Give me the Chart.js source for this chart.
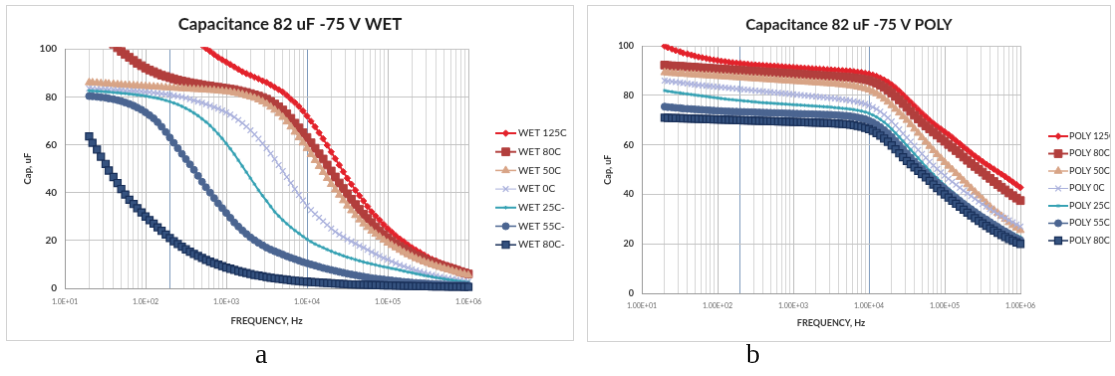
<!DOCTYPE html>
<html>
<head>
<meta charset="utf-8">
<script src="https://cdn.jsdelivr.net/npm/chart.js@4.4.1/dist/chart.umd.min.js"></script>
<style>
  body { margin: 0; background: #fff; width: 1115px; height: 376px; position: relative; overflow: hidden; }
  canvas { position: absolute; border: 1px solid #d2d2d2; background: #fff; }
  .cap { position: absolute; font-family: "Liberation Serif", serif; font-size: 28px; color: #111; }
</style>
</head>
<body>
<canvas id="wetChart" width="568" height="336" style="left:6px; top:5px;"></canvas>
<canvas id="polyChart" width="524" height="337" style="left:587px; top:5px;"></canvas>
<div class="cap" style="left:255px; top:338px;">a</div>
<div class="cap" style="left:746px; top:338px;">b</div>
<script>
'use strict';

// frequency points, Hz (20 per decade)
var freqHz = [20, 22, 25, 28, 32, 35, 40, 45, 50, 56, 63, 71, 79, 89,
  100, 112, 126, 141, 158, 178, 200, 224, 251, 282, 316, 355, 398, 447, 501, 562, 631, 708, 794, 891,
  1000, 1122, 1259, 1413, 1585, 1778, 1995, 2239, 2512, 2818, 3162, 3548, 3981, 4467, 5012, 5623, 6310, 7079, 7943, 8913,
  10000, 11220, 12589, 14125, 15849, 17783, 19953, 22387, 25119, 28184, 31623, 35481, 39811, 44668, 50119, 56234, 63096, 70795, 79433, 89125,
  100000, 112202, 125893, 141254, 158489, 177828, 199526, 223872, 251189, 281838, 316228, 354813, 398107, 446684, 501187, 562341, 630957, 707946, 794328, 891251,
  1000000];

var decadeValues = [10, 100, 1000, 10000, 100000, 1000000];
var wetTickLabels = ['1.0E+01', '1.0E+02', '1.0E+03', '1.0E+04', '1.0E+05', '1.0E+06'];
var polyTickLabels = ['1.00E+01', '1.00E+02', '1.00E+03', '1.00E+04', '1.00E+05', '1.00E+06'];

var wetLabels = ['WET 125C', 'WET 80C', 'WET 50C', 'WET 0C', 'WET 25C-', 'WET 55C-', 'WET 80C-'];
var polyLabels = ['POLY 125C', 'POLY 80C', 'POLY 50C', 'POLY 0C', 'POLY 25C-', 'POLY 55C-', 'POLY 80C-'];

// capacitance, uF
var wet125 = [135, 133.5, 132, 130.5, 129, 127.5, 126, 124.5, 123, 122, 121, 120, 119, 118,
  117, 116, 115, 114, 113, 112, 111, 110, 109, 108, 107, 105.5, 104, 102.7, 101.5, 100.2, 99, 97.7, 96.5, 95.5,
  94.5, 93.5, 92.5, 91.5, 90.5, 89.7, 89, 88.2, 87.5, 86.7, 86, 85, 84, 83, 82, 80.6, 79, 77.6, 76, 74.1,
  72, 69.8, 67.5, 65, 62.5, 59.8, 57, 54.2, 51.5, 48.7, 46, 43.5, 41, 38.7, 36.5, 34.2, 32, 30.2, 28.5, 26.7,
  25, 23.5, 22, 20.7, 19.5, 18.2, 17, 16, 15, 14, 13, 12.2, 11.5, 10.7, 10, 9.5, 9, 8.4, 7.8, 7.2,
  6.7];
var wet80 = [112, 110, 108, 106.5, 105, 103.5, 102, 100.5, 99, 97.7, 96.5, 95.2, 94, 93,
  92, 91.2, 90.5, 89.7, 89, 88.5, 88, 87.5, 87, 86.6, 86.3, 85.9, 85.6, 85.3, 85, 84.7, 84.5, 84.2, 84, 83.7,
  83.5, 83.2, 83, 82.6, 82.2, 81.8, 81.3, 80.8, 80.3, 79.7, 79, 78.1, 77, 75.8, 74.5, 72.9, 71, 69, 67, 65,
  63, 60.8, 58.5, 56.2, 54, 51.5, 49, 46.5, 44, 41.7, 39.5, 37.2, 35, 33, 31, 29.2, 27.5, 25.7, 24, 22.5,
  21, 19.7, 18.5, 17.5, 16.5, 15.5, 14.5, 13.7, 13, 12.2, 11.5, 10.9, 10.3, 9.7, 9.2, 8.7, 8.2, 7.6, 7, 6.5,
  6];
var wet50 = [86, 85.9, 85.8, 85.6, 85.5, 85.4, 85.3, 85.1, 85, 84.9, 84.8, 84.7, 84.6, 84.5,
  84.4, 84.3, 84.2, 84.1, 84, 83.9, 83.8, 83.7, 83.6, 83.5, 83.4, 83.3, 83.2, 83.1, 83, 82.9, 82.8, 82.7, 82.5, 82.4,
  82.2, 82, 81.7, 81.4, 81, 80.5, 80, 79.5, 78.8, 78, 77, 75.8, 74.5, 73.1, 71.5, 69.6, 67.5, 65.3, 63, 60.8,
  58.5, 56, 53.5, 51, 48.5, 46, 43.5, 41.2, 39, 36.7, 34.5, 32.5, 30.5, 28.7, 27, 25.5, 24, 22.7, 21.5, 20.2,
  19, 18, 17, 16, 15, 14.1, 13.3, 12.5, 11.8, 11.1, 10.5, 9.9, 9.3, 8.8, 8.3, 7.8, 7.3, 6.8, 6.3, 5.9,
  5.5];
var wet0 = [83.5, 83.4, 83.3, 83.2, 83.1, 83, 82.9, 82.8, 82.7, 82.6, 82.5, 82.4, 82.3, 82.2,
  82, 81.9, 81.7, 81.5, 81.3, 81.1, 80.8, 80.5, 80.2, 79.9, 79.5, 79, 78.5, 78, 77.5, 76.9, 76.3, 75.7, 75, 74.3,
  73.5, 72.6, 71.5, 70.3, 69, 67.6, 66, 64.3, 62.5, 60.5, 58.5, 56.3, 54, 51.5, 49, 46.5, 44, 41.5, 39, 36.7,
  34.5, 32.7, 31, 29.5, 28, 26.5, 25, 23.7, 22.5, 21.5, 20.5, 19.6, 18.7, 17.8, 17, 16.1, 15.2, 14.3, 13.5, 12.7,
  12, 11.2, 10.5, 9.8, 9.2, 8.6, 8, 7.5, 7, 6.5, 6, 5.6, 5.2, 4.8, 4.5, 4.2, 3.9, 3.6, 3.3, 3,
  2.8];
var wet25 = [82.5, 82.4, 82.3, 82.2, 82.1, 82, 81.8, 81.7, 81.5, 81.4, 81.2, 81, 80.8, 80.6,
  80.3, 80, 79.7, 79.4, 79, 78.5, 78, 77.4, 76.8, 76, 75.2, 74.3, 73.2, 72.1, 70.8, 69.5, 68, 66.3, 64.5, 62.6,
  60.5, 58.3, 56, 53.5, 51, 48.5, 46, 43.5, 41, 38.7, 36.5, 34.2, 32, 30.2, 28.5, 27, 25.5, 24.2, 23, 21.7,
  20.5, 19.5, 18.5, 17.7, 17, 16.2, 15.5, 14.8, 14.2, 13.6, 13, 12.5, 12, 11.5, 11, 10.6, 10.2, 9.8, 9.4, 9,
  8.7, 8.3, 8, 7.6, 7.2, 6.8, 6.5, 6.1, 5.8, 5.4, 5.1, 4.8, 4.5, 4.2, 3.9, 3.6, 3.4, 3.1, 2.9, 2.7,
  2.5];
var wet55 = [80.3, 80.2, 80, 79.8, 79.6, 79.3, 79, 78.6, 78.2, 77.6, 77, 76.3, 75.5, 74.6,
  73.5, 72.3, 71, 69.4, 67.5, 65.3, 63, 60.8, 58.5, 56.2, 54, 51.8, 49.5, 47, 44.5, 42.2, 40, 37.7, 35.5, 33.5,
  31.5, 29.5, 27.5, 25.8, 24.2, 22.7, 21.3, 20.1, 19, 18, 17, 16.2, 15.5, 14.8, 14.1, 13.4, 12.8, 12.2, 11.6, 11,
  10.5, 10, 9.5, 9, 8.5, 8.1, 7.7, 7.3, 6.9, 6.5, 6.1, 5.8, 5.5, 5.2, 4.9, 4.6, 4.3, 4.1, 3.9, 3.7,
  3.5, 3.3, 3.1, 2.9, 2.7, 2.6, 2.4, 2.3, 2.2, 2.1, 2, 1.9, 1.8, 1.7, 1.6, 1.5, 1.4, 1.4, 1.3, 1.3,
  1.2];
var wet80m = [63.5, 60.8, 58, 55, 52, 49.2, 46.5, 44, 41.5, 39.2, 37, 35.2, 33.5, 31.7,
  30, 28.5, 27, 25.5, 24, 22.5, 21, 19.7, 18.5, 17.4, 16.3, 15.3, 14.4, 13.5, 12.7, 11.9, 11.2, 10.5, 9.9, 9.3,
  8.7, 8.2, 7.7, 7.2, 6.8, 6.4, 6, 5.6, 5.3, 5, 4.7, 4.4, 4.2, 4, 3.8, 3.6, 3.4, 3.2, 3.1, 2.9,
  2.8, 2.6, 2.5, 2.4, 2.3, 2.2, 2.1, 2, 1.9, 1.8, 1.7, 1.65, 1.6, 1.55, 1.5, 1.45, 1.4, 1.35, 1.3, 1.25,
  1.2, 1.15, 1.1, 1.05, 1, 0.97, 0.95, 0.92, 0.9, 0.87, 0.85, 0.82, 0.8, 0.77, 0.75, 0.72, 0.7, 0.67, 0.65, 0.62,
  0.6];

var poly125 = [100, 99.4, 98.8, 98.2, 97.7, 97.2, 96.8, 96.4, 96, 95.6, 95.3, 95, 94.7, 94.4,
  94.2, 93.9, 93.7, 93.5, 93.3, 93.1, 93, 92.8, 92.7, 92.5, 92.4, 92.3, 92.2, 92.1, 92, 91.9, 91.8, 91.7, 91.6, 91.5,
  91.4, 91.3, 91.2, 91.1, 91, 90.9, 90.8, 90.7, 90.6, 90.5, 90.4, 90.3, 90.2, 90.1, 90, 89.9, 89.7, 89.5, 89.3, 89,
  88.7, 88.3, 87.8, 87.1, 86.3, 85.4, 84.3, 83.1, 81.8, 80.3, 78.8, 77.3, 75.8, 74.3, 72.8, 71.4, 70, 68.7, 67.5, 66.4,
  65.3, 64.2, 63, 61.7, 60.5, 59.2, 58, 56.7, 55.5, 54.4, 53.3, 52.2, 51.2, 50.2, 49.2, 48.2, 47.2, 46.1, 45, 43.9,
  42.8];
var poly80 = [92.3, 92.1, 92, 91.9, 91.8, 91.7, 91.6, 91.5, 91.4, 91.3, 91.2, 91.1, 91, 90.9,
  90.8, 90.7, 90.6, 90.5, 90.4, 90.3, 90.2, 90.1, 90, 89.9, 89.8, 89.7, 89.6, 89.5, 89.4, 89.3, 89.2, 89.1, 89, 88.9,
  88.8, 88.7, 88.6, 88.5, 88.4, 88.3, 88.2, 88.1, 88, 87.9, 87.8, 87.7, 87.6, 87.5, 87.4, 87.3, 87.1, 86.9, 86.7, 86.4,
  86.1, 85.6, 85, 84.2, 83.3, 82.2, 81, 79.6, 78.2, 76.7, 75.2, 73.6, 72, 70.5, 69, 67.7, 66.5, 65.2, 64, 62.7,
  61.5, 60.2, 59, 57.7, 56.5, 55.1, 53.8, 52.5, 51.3, 50.1, 49, 47.7, 46.5, 45.2, 44, 42.9, 41.8, 40.6, 39.5, 38.5,
  37.5];
var poly50 = [89.3, 89.1, 89, 88.9, 88.8, 88.7, 88.6, 88.5, 88.4, 88.3, 88.2, 88.1, 88, 87.9,
  87.8, 87.7, 87.6, 87.5, 87.4, 87.3, 87.2, 87.1, 87, 86.9, 86.8, 86.7, 86.6, 86.5, 86.4, 86.3, 86.2, 86.1, 86, 85.9,
  85.8, 85.7, 85.6, 85.5, 85.4, 85.3, 85.2, 85.1, 85, 84.9, 84.8, 84.7, 84.5, 84.4, 84.2, 84, 83.8, 83.5, 83.2, 82.8,
  82.3, 81.6, 80.8, 79.8, 78.6, 77.4, 76, 74.5, 73, 71.5, 70, 68.3, 66.5, 64.8, 63, 61.2, 59.5, 57.8, 56.2, 54.6,
  53, 51.5, 50, 48.5, 47, 45.5, 44, 42.5, 41, 39.5, 38, 36.5, 35, 33.7, 32.5, 31.2, 30, 28.7, 27.5, 26.5,
  25.5];
var poly0 = [86, 85.8, 85.6, 85.4, 85.2, 85, 84.8, 84.6, 84.4, 84.2, 84.1, 83.9, 83.8, 83.6,
  83.5, 83.3, 83.2, 83, 82.9, 82.7, 82.6, 82.4, 82.3, 82.1, 82, 81.8, 81.7, 81.5, 81.4, 81.2, 81.1, 80.9, 80.8, 80.6,
  80.5, 80.3, 80.2, 80, 79.9, 79.7, 79.6, 79.4, 79.3, 79.1, 79, 78.8, 78.6, 78.4, 78.2, 78, 77.7, 77.4, 77, 76.6,
  76, 75.3, 74.5, 73.5, 72.3, 71, 69.5, 67.9, 66.3, 64.6, 63, 61.3, 59.7, 58, 56.4, 54.8, 53.2, 51.7, 50.3, 48.9,
  47.6, 46.3, 45.1, 43.9, 42.7, 41.5, 40.4, 39.3, 38.2, 37.1, 36.1, 35.1, 34.1, 33.1, 32.2, 31.3, 30.4, 29.5, 28.7, 27.8,
  27];
var poly25 = [82, 81.7, 81.5, 81.2, 81, 80.8, 80.6, 80.4, 80.2, 80, 79.8, 79.6, 79.4, 79.2,
  79, 78.8, 78.6, 78.4, 78.3, 78.1, 78, 77.8, 77.7, 77.5, 77.4, 77.2, 77.1, 77, 76.9, 76.8, 76.7, 76.6, 76.5, 76.4,
  76.3, 76.2, 76.1, 76, 75.9, 75.8, 75.7, 75.6, 75.5, 75.4, 75.3, 75.1, 75, 74.8, 74.7, 74.5, 74.3, 74, 73.7, 73.3,
  72.8, 72.1, 71.3, 70.3, 69.2, 67.9, 66.4, 64.8, 63.2, 61.5, 59.8, 58.1, 56.4, 54.7, 53, 51.3, 49.7, 48.1, 46.6, 45.1,
  43.7, 42.3, 41, 39.7, 38.4, 37.2, 36, 34.8, 33.7, 32.6, 31.5, 30.5, 29.5, 28.5, 27.6, 26.7, 25.8, 25, 24.2, 23.5,
  22.8];
var poly55 = [75.5, 75.3, 75.2, 75, 74.9, 74.7, 74.6, 74.5, 74.4, 74.3, 74.2, 74.1, 74, 73.9,
  73.8, 73.7, 73.6, 73.55, 73.5, 73.45, 73.4, 73.35, 73.3, 73.25, 73.2, 73.15, 73.1, 73.05, 73, 72.95, 72.9, 72.85, 72.8, 72.75,
  72.7, 72.65, 72.6, 72.55, 72.5, 72.45, 72.4, 72.35, 72.3, 72.25, 72.2, 72.1, 72, 71.9, 71.8, 71.6, 71.4, 71.1, 70.8, 70.4,
  69.8, 69.1, 68.2, 67.2, 66, 64.7, 63.2, 61.6, 60, 58.3, 56.6, 54.9, 53.3, 51.8, 50.3, 48.9, 47.5, 46.1, 44.8, 43.5,
  42.3, 41, 39.8, 38.6, 37.4, 36.2, 35.1, 34, 32.9, 31.8, 30.8, 29.8, 28.8, 27.8, 26.9, 25.9, 25, 24.1, 23.2, 22.3,
  21.5];
var poly80m = [71, 70.95, 70.9, 70.85, 70.8, 70.75, 70.7, 70.65, 70.6, 70.55, 70.5, 70.45, 70.4, 70.35,
  70.3, 70.25, 70.2, 70.15, 70.1, 70.05, 70, 69.95, 69.9, 69.85, 69.8, 69.75, 69.7, 69.65, 69.6, 69.55, 69.5, 69.45, 69.4, 69.35,
  69.3, 69.25, 69.2, 69.15, 69.1, 69.05, 69, 68.95, 68.9, 68.85, 68.8, 68.7, 68.6, 68.5, 68.4, 68.2, 68, 67.7, 67.4, 66.9,
  66.4, 65.7, 64.8, 63.8, 62.6, 61.3, 59.8, 58.2, 56.6, 55, 53.5, 52.2, 50.9, 49.5, 48.2, 46.9, 45.5, 44, 42.6, 41.3,
  40, 38.7, 37.4, 36.2, 35, 33.8, 32.6, 31.5, 30.4, 29.3, 28.3, 27.3, 26.3, 25.4, 24.5, 23.6, 22.8, 22, 21.3, 20.6,
  20];

var seriesStyles = [
  { color: '#e3222b', shape: 'rectRot', r: 3.2, lw: 2, order: 7 },
  { color: '#b23f3d', shape: 'rect', r: 5.5, lw: 2, order: 6 },
  { color: '#d8a486', shape: 'triangle', r: 4.5, lw: 1.5, order: 5 },
  { color: '#a9b0dc', shape: 'crossRot', r: 4, lw: 1, pbw: 1.2, order: 4 },
  { color: '#35a1b3', shape: 'star', r: 1.8, lw: 2, order: 3 },
  { color: '#4b6591', shape: 'circle', r: 3.5, lw: 1.5, order: 2 },
  { color: '#182f58', fill: '#35527f', shape: 'rect', r: 5, lw: 1.5, pbw: 1.2, order: 1 }
];

function makeSeries(labels, valueLists) {
  return valueLists.map(function(values, n) {
    var st = seriesStyles[n];
    return {
      label: labels[n],
      data: freqHz.map(function(f, i) { return { x: f, y: values[i] }; }),
      yAxisID: 'y',
      borderColor: st.color,
      backgroundColor: st.fill || st.color,
      borderWidth: st.lw,
      pointStyle: st.shape,
      pointRadius: st.r,
      pointBackgroundColor: st.fill || st.color,
      pointBorderColor: st.color,
      pointBorderWidth: st.pbw || 1,
      tension: 0,
      clip: { left: 8, right: 8, top: 2, bottom: 8 },
      order: st.order
    };
  });
}

// legend drawn beside the plot: line with marker, then the name
var sideLegend = {
  id: 'sideLegend',
  afterDraw: function(chart, args, o) {
    var ctx = chart.ctx;
    ctx.save();
    chart.data.datasets.forEach(function(ds, i) {
      var y = o.top + i * o.step;
      ctx.strokeStyle = ds.borderColor;
      ctx.lineWidth = ds.borderWidth;
      ctx.beginPath();
      ctx.moveTo(o.x, y);
      ctx.lineTo(o.x + o.len, y);
      ctx.stroke();
      ctx.fillStyle = ds.pointBackgroundColor;
      ctx.strokeStyle = ds.pointBorderColor;
      ctx.lineWidth = ds.pointBorderWidth;
      Chart.helpers.drawPoint(ctx, {
        pointStyle: ds.pointStyle, radius: ds.pointRadius,
        borderWidth: ds.pointBorderWidth, rotation: 0
      }, o.x + o.len / 2, y);
      ctx.fillStyle = '#222';
      ctx.font = o.fontSize + 'px Lato';
      ctx.textAlign = 'left';
      ctx.textBaseline = 'middle';
      ctx.fillText(ds.label, o.textX, y);
    });
    ctx.restore();
  }
};

function gridColor(c) {
  var v = c.tick ? c.tick.value : 0;
  if (v === 200 || v === 10000) return '#7f9bbd';
  if (decadeValues.indexOf(v) >= 0) return '#bcbcbc';
  return '#d6d6d6';
}

function buildChart(id, g) {
  var ctx = document.getElementById(id).getContext('2d');
  return new Chart(ctx, {
    type: 'line',
    data: { datasets: makeSeries(g.labels, g.values) },
    plugins: [sideLegend],
    options: {
      responsive: false,
      animation: false,
      devicePixelRatio: 1,
      layout: { padding: 0 },
      plugins: {
        legend: { display: false },
        tooltip: { enabled: false },
        title: {
          display: true, text: g.title, color: '#1a1a1a',
          font: { family: 'Lato', size: g.titleSize, weight: 'bold' },
          padding: { top: g.titleTop, bottom: g.titleBottom }
        },
        sideLegend: g.legend
      },
      scales: {
        x: {
          type: 'logarithmic', min: 10, max: 1000000,
          afterBuildTicks: function(scale) {
            var t = [];
            decadeValues.forEach(function(d, i) {
              if (i === decadeValues.length - 1) { t.push({ value: d }); return; }
              for (var k = 1; k <= 9; k++) t.push({ value: d * k });
            });
            scale.ticks = t;
          },
          afterFit: function(scale) { scale.height = g.xHeight; },
          grid: { color: gridColor, lineWidth: 1, drawTicks: false },
          border: { color: '#9a9a9a' },
          ticks: {
            autoSkip: false, maxRotation: 0, minRotation: 0, padding: g.xTickPad,
            color: '#666', font: { family: 'Lato', size: 7 },
            callback: function(v) {
              var i = decadeValues.indexOf(v);
              return i >= 0 ? g.tickLabels[i] : '';
            }
          },
          title: {
            display: true, text: 'FREQUENCY, Hz', color: '#333',
            font: { family: 'Lato', size: g.axisSize, weight: 'bold' },
            padding: { top: 0, bottom: g.xTitlePad }
          }
        },
        y: {
          min: 0, max: 100,
          afterFit: function(scale) { scale.width = g.yWidth; },
          grid: { color: '#c4c4c4', drawTicks: false },
          border: { color: '#9a9a9a' },
          ticks: {
            stepSize: 20, padding: 8, color: '#333',
            font: { family: 'Lato', size: g.yTickSize, weight: 'bold' }
          },
          title: {
            display: true, text: 'Cap, uF', color: '#333',
            font: { family: 'Lato', size: g.axisSize, weight: 'bold' },
            padding: { top: g.yTitlePad, bottom: 0 }
          }
        },
        // empty box on the right keeps room for the legend
        yR: {
          position: 'right', min: 0, max: 1,
          afterFit: function(scale) { scale.width = g.rightWidth; },
          grid: { display: false }, border: { display: false },
          ticks: { display: false }
        }
      }
    }
  });
}

buildChart('wetChart', {
  title: 'Capacitance 82 uF -75 V WET', titleSize: 16.8, titleTop: 9, titleBottom: 14,
  labels: wetLabels, values: [wet125, wet80, wet50, wet0, wet25, wet55, wet80m],
  tickLabels: wetTickLabels,
  xHeight: 52, yWidth: 58, rightWidth: 105, xTickPad: 10, xTitlePad: 13.3, yTitlePad: 15.6,
  axisSize: 9.5, yTickSize: 10,
  legend: { x: 490, len: 21, textX: 513, top: 128, step: 18.7, fontSize: 10 }
});

buildChart('polyChart', {
  title: 'Capacitance 82 uF -75 V POLY', titleSize: 15.2, titleTop: 10, titleBottom: 12,
  labels: polyLabels, values: [poly125, poly80, poly50, poly0, poly25, poly55, poly80m],
  tickLabels: polyTickLabels,
  xHeight: 48, yWidth: 54, rightWidth: 90, xTickPad: 9, xTitlePad: 12.6, yTitlePad: 14.6,
  axisSize: 9, yTickSize: 9,
  legend: { x: 462, len: 20, textX: 483, top: 131, step: 17.5, fontSize: 9 }
});
</script>
</body>
</html>
